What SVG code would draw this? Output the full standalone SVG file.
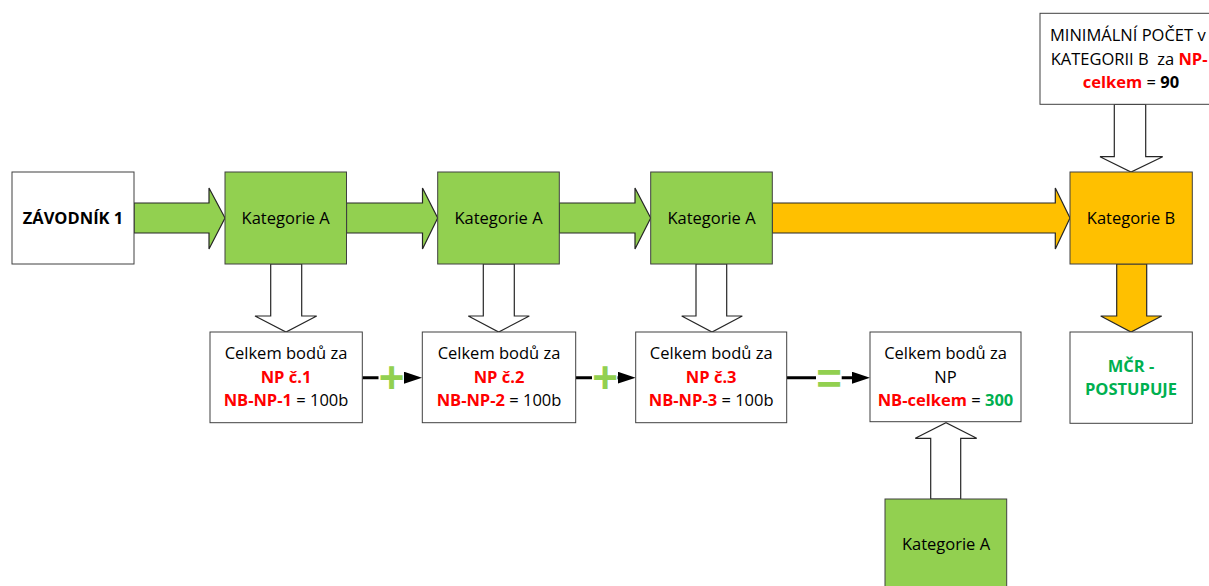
<svg xmlns="http://www.w3.org/2000/svg" width="1209" height="586" viewBox="0 0 1209 586">
<defs>
<marker id="ah" markerUnits="userSpaceOnUse" markerWidth="18" markerHeight="12" refX="8" refY="6" orient="auto" viewBox="0 0 18 12">
<path d="M0,0 L18,6 L0,12 z" fill="#000"/>
</marker>
</defs>
<style>
text{font-family:'Open Sans','Liberation Sans',sans-serif;font-size:16.5px;fill:#000;text-anchor:middle}
.box{fill:#fff;stroke:#404040;stroke-width:1}
.ga{fill:#92D050;stroke:#404040;stroke-width:1}
.ob{fill:#FFC000;stroke:#404040;stroke-width:1}
.wa{fill:#fff;stroke:#262626;stroke-width:1.2;stroke-linejoin:miter}
.gar{fill:#92D050;stroke:#262626;stroke-width:1.2}
.oar{fill:#FFC000;stroke:#262626;stroke-width:1.2}
.b{font-weight:bold}
.r{fill:#FF0000;font-weight:bold}
.g{fill:#00B050;font-weight:bold}
.op{fill:#92D050;font-family:'Liberation Sans',sans-serif;font-weight:bold;font-size:44px}
.ln{stroke:#000;stroke-width:3;fill:none}
</style>

<g id="connectors">
<!-- horizontal block arrows -->
<polygon class="gar" points="134,203 209,203 209,188 225,218 209,249 209,233 134,233"/>
<polygon class="gar" points="346.5,203 422.5,203 422.5,188 437.7,218 422.5,249 422.5,233 346.5,233"/>
<polygon class="gar" points="559.3,203 635,203 635,188 650.7,218 635,249 635,233 559.3,233"/>
<polygon class="oar" points="772.3,203 1055.3,203 1055.3,188 1070,218 1055.3,249 1055.3,233 772.3,233"/>
<!-- down block arrows -->
<polygon class="wa" points="270.7,264 301.7,264 301.7,316 316.7,316 286,332 255,316 270.7,316"/>
<polygon class="wa" points="483.3,264 514.3,264 514.3,316 529.3,316 498.7,332 468.3,316 483.3,316"/>
<polygon class="wa" points="696,264 726.7,264 726.7,316 742.3,316 712,332 681.7,316 696,316"/>
<polygon class="oar" points="1116.7,264 1146.7,264 1146.7,316 1161.7,316 1131,332 1100.7,316 1116.7,316"/>
<polygon class="wa" points="1114.3,104.3 1145.7,104.3 1145.7,156.7 1162.7,156.7 1131,172 1100,156.7 1114.3,156.7"/>
<!-- up block arrow -->
<polygon class="wa" points="930.7,499 960.7,499 960.7,438.3 976.7,438.3 946,422.7 915.3,438.3 930.7,438.3"/>
<!-- sum connectors -->
<path class="ln" d="M362.3,377.7 L412,377.7" marker-end="url(#ah)"/>
<rect x="378.5" y="364" width="25.5" height="29" fill="#fff"/>
<text class="op" x="391.5" y="393">+</text>
<path class="ln" d="M575.7,377.7 L625.7,377.7" marker-end="url(#ah)"/>
<rect x="592" y="364" width="25.5" height="29" fill="#fff"/>
<text class="op" x="605" y="393">+</text>
<path class="ln" d="M786.7,377.7 L860,377.7" marker-end="url(#ah)"/>
<rect x="816" y="366" width="25.7" height="24" fill="#fff"/>
<text class="op" x="829" y="393.5">=</text>
</g>

<g id="zavodnik">
<rect class="box" x="12" y="172" width="122" height="92"/>
<text class="b" x="73" y="224">ZÁVODNÍK 1</text>
</g>
<g id="katA1">
<rect class="ga" x="225" y="172" width="121.5" height="92"/>
<text x="285.7" y="223.5">Kategorie A</text>
</g>
<g id="katA2">
<rect class="ga" x="437.7" y="172" width="121.6" height="92"/>
<text x="498.5" y="223.5">Kategorie A</text>
</g>
<g id="katA3">
<rect class="ga" x="650.7" y="172" width="121.6" height="92"/>
<text x="711.5" y="223.5">Kategorie A</text>
</g>
<g id="katB">
<rect class="ob" x="1070" y="172" width="122.3" height="92"/>
<text x="1131" y="223.5">Kategorie B</text>
</g>
<g id="minimalni">
<rect class="box" x="1040" y="13.3" width="182" height="91"/>
<text x="1050" y="40.5" style="text-anchor:start">MINIMÁLNÍ POČET v</text>
<text x="1050.7" y="64.5" style="text-anchor:start;white-space:pre">KATEGORII B  za <tspan class="r">NP-</tspan></text>
<text x="1131" y="87.5"><tspan class="r">celkem</tspan> = <tspan class="b">90</tspan></text>
</g>
<g id="np1">
<rect class="box" x="210" y="332" width="152.3" height="90.7"/>
<text x="286" y="359">Celkem bodů za</text>
<text class="r" x="286" y="382.7">NP č.1</text>
<text x="286" y="406"><tspan class="r">NB-NP-1</tspan> = 100b</text>
</g>
<g id="np2">
<rect class="box" x="422.3" y="332" width="153.4" height="90.7"/>
<text x="499" y="359">Celkem bodů za</text>
<text class="r" x="499" y="382.7">NP č.2</text>
<text x="499" y="406"><tspan class="r">NB-NP-2</tspan> = 100b</text>
</g>
<g id="np3">
<rect class="box" x="635.7" y="332" width="151" height="90.7"/>
<text x="711.2" y="359">Celkem bodů za</text>
<text class="r" x="711.2" y="382.7">NP č.3</text>
<text x="711.2" y="406"><tspan class="r">NB-NP-3</tspan> = 100b</text>
</g>
<g id="npCelkem">
<rect class="box" x="870" y="332" width="151" height="89.7"/>
<text x="945.5" y="359">Celkem bodů za</text>
<text x="945.5" y="382.7">NP</text>
<text x="945.5" y="406"><tspan class="r">NB-celkem</tspan> = <tspan class="g">300</tspan></text>
</g>
<g id="mcr">
<rect class="box" x="1070" y="332" width="122.3" height="91.3"/>
<text class="g" x="1131" y="371.7">MČR -</text>
<text class="g" x="1131" y="395">POSTUPUJE</text>
</g>
<g id="katA4">
<rect class="ga" x="885" y="499" width="121.7" height="92"/>
<text x="946" y="550">Kategorie A</text>
</g>
</svg>
